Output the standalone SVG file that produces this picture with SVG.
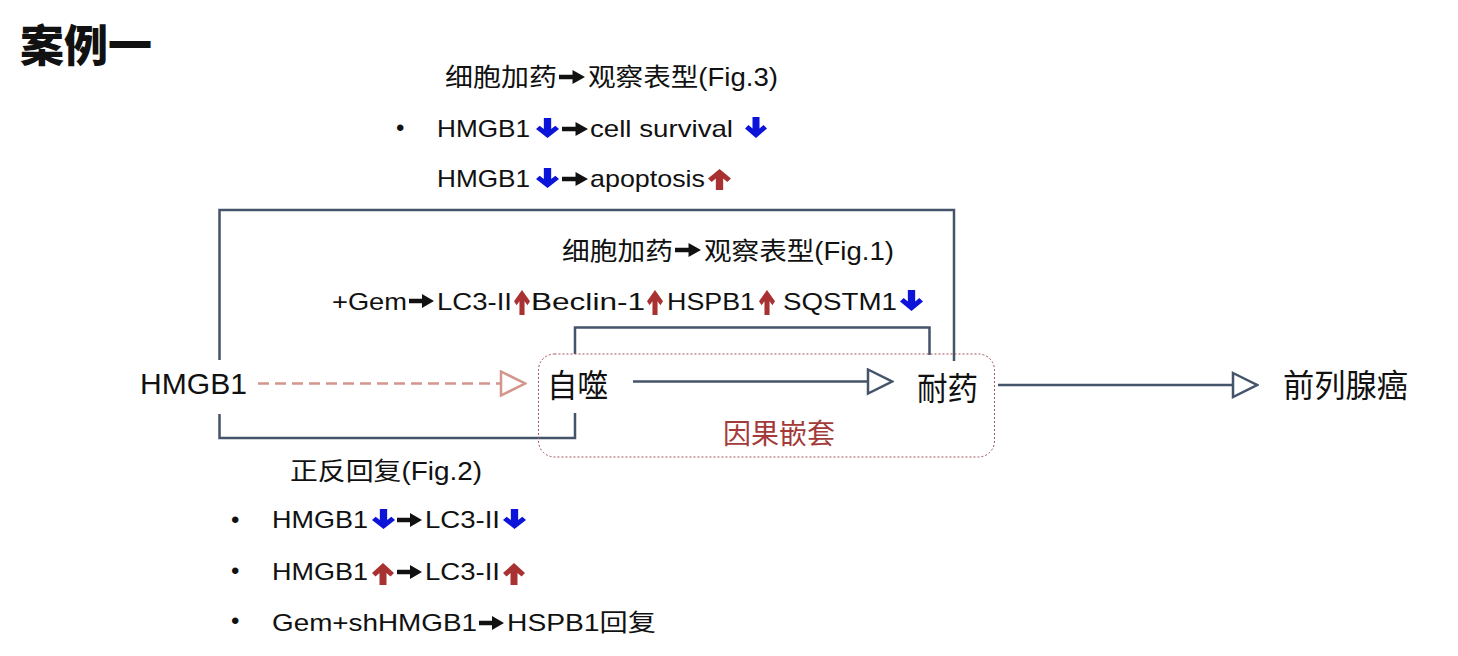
<svg xmlns="http://www.w3.org/2000/svg" xmlns:xlink="http://www.w3.org/1999/xlink" width="1458" height="656" viewBox="0 0 1458 656">
<style>
.t{font-family:"Liberation Sans","Noto Sans CJK SC",sans-serif;fill:#111;}
.s24{font-size:24px;}
.s25{font-size:25px;}
.cj{font-family:"Noto Sans CJK SC","Liberation Sans",sans-serif;fill:#111;}
.conn{fill:none;stroke:#44546a;stroke-width:2.5;}
.blue{fill:#0b14d8;}
.red{fill:#a83232;}
.blk{fill:#111;}
</style>
<defs>
<symbol id="dn" viewBox="0 0 22 22" preserveAspectRatio="none"><path d="M7.5,0 H14.5 V12 L18.5,8.5 L22,12 L11,22 L0,12 L3.5,8.5 L7.5,12 Z"/></symbol>
<symbol id="up" viewBox="0 0 22 22" preserveAspectRatio="none"><path d="M11,0 L22,10 L18.5,13.5 L14.5,10 V22 H7.5 V10 L3.5,13.5 L0,10 Z"/></symbol>
<symbol id="ra" viewBox="0 0 25 14" preserveAspectRatio="none"><path d="M0,4.8 H13 V0 L25,7 L13,14 V9.2 H0 Z"/></symbol>
<marker id="mh" markerUnits="userSpaceOnUse" viewBox="0 0 28 28" refX="26" refY="14" markerWidth="28" markerHeight="28" orient="auto"><path d="M2,2 L26,14 L2,26 Z" fill="#fff" stroke="#44546a" stroke-width="2.5" stroke-linejoin="miter"/></marker>
<marker id="mp" markerUnits="userSpaceOnUse" viewBox="0 0 28 28" refX="26" refY="14" markerWidth="28" markerHeight="28" orient="auto"><path d="M2,2 L26,14 L2,26 Z" fill="#fff" stroke="#d4968c" stroke-width="2.5"/></marker>
</defs>
<rect width="1458" height="656" fill="#fff"/>

<g id="title"><text class="cj" x="20" y="62" font-size="44" font-weight="900">案例一</text></g>

<g id="connectors">
<path class="conn" d="M219.5,360 V210 H954 V361"/>
<path class="conn" d="M575,354 V327.5 H929.5 V355"/>
<path class="conn" d="M219.5,414 V438 H575 V413"/>
<line x1="258" y1="383.5" x2="525" y2="383.5" stroke="#d4968c" stroke-width="2.5" stroke-dasharray="11 6" marker-end="url(#mp)"/>
<line x1="633" y1="381.5" x2="892" y2="381.5" class="conn" marker-end="url(#mh)"/>
<line x1="998" y1="385" x2="1257" y2="385" class="conn" marker-end="url(#mh)"/>
</g>

<g id="nested-box">
<rect x="538.5" y="354" width="456" height="103" rx="16" fill="none" stroke="#a0525a" stroke-width="1" stroke-dasharray="2 2"/>
<text class="cj" x="723" y="444" font-size="28" textLength="112" lengthAdjust="spacingAndGlyphs" style="fill:#a33a3a">因果嵌套</text>
</g>

<g id="node-hmgb1"><text class="t" x="140" y="394" font-size="30" textLength="107" lengthAdjust="spacingAndGlyphs">HMGB1</text></g>
<g id="node-autophagy"><text class="cj" x="547" y="397" font-size="32" textLength="61" lengthAdjust="spacingAndGlyphs">自噬</text></g>
<g id="node-resistance"><text class="cj" x="917" y="400" font-size="32" textLength="61" lengthAdjust="spacingAndGlyphs">耐药</text></g>
<g id="node-prostate"><text class="cj" x="1283" y="397" font-size="32" textLength="125" lengthAdjust="spacingAndGlyphs">前列腺癌</text></g>

<g id="note-fig3">
<text class="t s25" x="445" y="86" textLength="112" lengthAdjust="spacingAndGlyphs">细胞加药</text>
<use href="#ra" xlink:href="#ra" x="559" y="70" width="26" height="14" class="blk"/>
<text class="t s25" x="588" y="86" textLength="190" lengthAdjust="spacingAndGlyphs">观察表型(Fig.3)</text>
<text class="t s24" x="396" y="136">•</text>
<text class="t s24" x="437" y="137" textLength="93" lengthAdjust="spacingAndGlyphs">HMGB1</text>
<use href="#dn" xlink:href="#dn" x="536" y="118" width="23" height="20" class="blue"/>
<use href="#ra" xlink:href="#ra" x="562" y="122" width="26" height="14" class="blk"/>
<text class="t s24" x="590" y="137" textLength="143" lengthAdjust="spacingAndGlyphs">cell survival</text>
<use href="#dn" xlink:href="#dn" x="745" y="117" width="22" height="21" class="blue"/>
<text class="t s24" x="437" y="187" textLength="93" lengthAdjust="spacingAndGlyphs">HMGB1</text>
<use href="#dn" xlink:href="#dn" x="536" y="168" width="23" height="20" class="blue"/>
<use href="#ra" xlink:href="#ra" x="562" y="172" width="26" height="14" class="blk"/>
<text class="t s24" x="590" y="187" textLength="115" lengthAdjust="spacingAndGlyphs">apoptosis</text>
<use href="#up" xlink:href="#up" x="708" y="169" width="23" height="21" class="red"/>
</g>

<g id="note-fig1">
<text class="t s25" x="562" y="260" textLength="111" lengthAdjust="spacingAndGlyphs">细胞加药</text>
<use href="#ra" xlink:href="#ra" x="675" y="243" width="26" height="14" class="blk"/>
<text class="t s25" x="704" y="260" textLength="190" lengthAdjust="spacingAndGlyphs">观察表型(Fig.1)</text>
<text class="t s24" x="332" y="310" textLength="75" lengthAdjust="spacingAndGlyphs">+Gem</text>
<use href="#ra" xlink:href="#ra" x="409" y="294" width="25" height="14" class="blk"/>
<text class="t s24" x="437" y="310" textLength="75" lengthAdjust="spacingAndGlyphs">LC3-II</text>
<use href="#up" xlink:href="#up" x="514" y="290" width="16" height="25" class="red"/>
<text class="t s24" x="531" y="310" textLength="114" lengthAdjust="spacingAndGlyphs">Beclin-1</text>
<use href="#up" xlink:href="#up" x="647" y="290" width="16" height="25" class="red"/>
<text class="t s24" x="667" y="310" textLength="88" lengthAdjust="spacingAndGlyphs">HSPB1</text>
<use href="#up" xlink:href="#up" x="759" y="290" width="16" height="25" class="red"/>
<text class="t s24" x="783" y="310" textLength="114" lengthAdjust="spacingAndGlyphs">SQSTM1</text>
<use href="#dn" xlink:href="#dn" x="900" y="290" width="23" height="21" class="blue"/>
</g>

<g id="note-fig2">
<text class="t s25" x="290" y="480" textLength="192" lengthAdjust="spacingAndGlyphs">正反回复(Fig.2)</text>
<text class="t s24" x="231" y="528">•</text>
<text class="t s24" x="272" y="528" textLength="96" lengthAdjust="spacingAndGlyphs">HMGB1</text>
<use href="#dn" xlink:href="#dn" x="372" y="509" width="23" height="20" class="blue"/>
<use href="#ra" xlink:href="#ra" x="397" y="513" width="25" height="14" class="blk"/>
<text class="t s24" x="425" y="528" textLength="75" lengthAdjust="spacingAndGlyphs">LC3-II</text>
<use href="#dn" xlink:href="#dn" x="503" y="509" width="23" height="20" class="blue"/>
<text class="t s24" x="231" y="579">•</text>
<text class="t s24" x="272" y="580" textLength="96" lengthAdjust="spacingAndGlyphs">HMGB1</text>
<use href="#up" xlink:href="#up" x="372" y="563" width="22" height="22" class="red"/>
<use href="#ra" xlink:href="#ra" x="397" y="565" width="25" height="14" class="blk"/>
<text class="t s24" x="425" y="580" textLength="75" lengthAdjust="spacingAndGlyphs">LC3-II</text>
<use href="#up" xlink:href="#up" x="503" y="563" width="22" height="22" class="red"/>
<text class="t s24" x="231" y="629">•</text>
<text class="t s24" x="272" y="631" textLength="205" lengthAdjust="spacingAndGlyphs">Gem+shHMGB1</text>
<use href="#ra" xlink:href="#ra" x="479" y="616" width="25" height="14" class="blk"/>
<text class="t s24" x="507" y="631" textLength="149" lengthAdjust="spacingAndGlyphs">HSPB1回复</text>
</g>
</svg>
